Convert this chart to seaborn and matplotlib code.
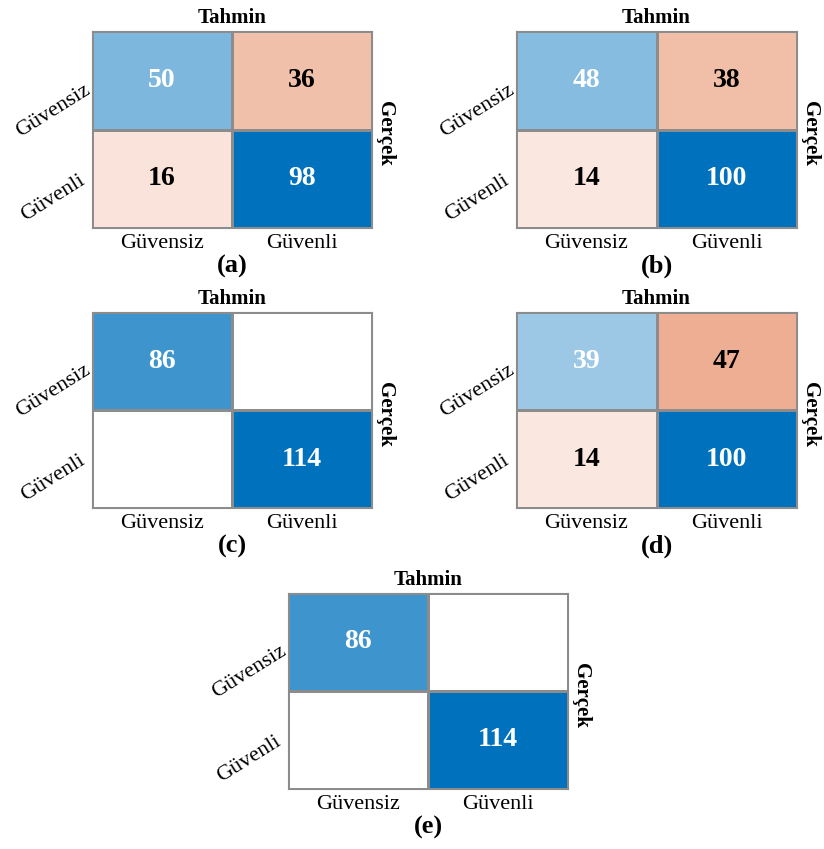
import numpy as np
import matplotlib
matplotlib.use("Agg")
import matplotlib.pyplot as plt
import seaborn as sns
from matplotlib.colors import LinearSegmentedColormap

sns.set_style("white")
plt.rcParams['font.family'] = ['Liberation Serif', 'DejaVu Serif']
plt.rcParams['text.color'] = 'black'
plt.rcParams['xtick.color'] = 'black'
plt.rcParams['ytick.color'] = 'black'

# ---- data ----
class_labels = ["Güvensiz", "Güvenli"]
panel_names = ["(a)", "(b)", "(c)", "(d)", "(e)"]
cm_a = [[50, 36], [16, 98]]
cm_b = [[48, 38], [14, 100]]
cm_c = [[86, 0], [0, 114]]
cm_d = [[39, 47], [14, 100]]
cm_e = [[86, 0], [0, 114]]
matrices = [cm_a, cm_b, cm_c, cm_d, cm_e]
x_title = "Tahmin"
y_title = "Gerçek"

# ---- styling ----
blue_cmap = LinearSegmentedColormap.from_list("bl", ["#FFFFFF", "#0072BD"])
orange_cmap = LinearSegmentedColormap.from_list("or", ["#FFFFFF", "#D95319"])
edge = "#8C8C8C"

W, H = 824, 849
fig = plt.figure(figsize=(W / 100, H / 100), dpi=100)

# axes boxes in pixels: (left, top, right, bottom)
boxes = [
    (92, 31, 372, 228),
    (516, 31, 797, 228),
    (92, 312, 372, 508),
    (516, 312, 797, 508),
    (288, 593, 568, 789),
]

for cm, name, (l, t, r, b) in zip(matrices, panel_names, boxes):
    ax = fig.add_axes([l / W, 1 - b / H, (r - l) / W, (b - t) / H])
    arr = np.array(cm)
    vmax = arr.max()
    diag_mask = ~np.eye(2, dtype=bool)
    off_mask = np.eye(2, dtype=bool)
    annot = np.where(arr > 0, arr.astype(str), "")
    sns.heatmap(arr, mask=diag_mask, cmap=blue_cmap, vmin=0, vmax=vmax,
                annot=annot, fmt="", cbar=False, linewidths=0.8, linecolor=edge,
                annot_kws=dict(color="white", fontsize=20, fontweight="bold"), ax=ax)
    sns.heatmap(arr, mask=off_mask, cmap=orange_cmap, vmin=0, vmax=vmax,
                annot=annot, fmt="", cbar=False, linewidths=0.8, linecolor=edge,
                annot_kws=dict(color="black", fontsize=20, fontweight="bold"), ax=ax)
    ax.set_xlim(0, 2)
    ax.set_ylim(2, 0)
    for sp in ax.spines.values():
        sp.set_visible(True)
        sp.set_color(edge)
        sp.set_linewidth(0.8)
    ax.set_xticks([0.5, 1.5])
    ax.set_yticks([0.5, 1.5])
    ax.set_xticklabels(class_labels, fontsize=16)
    ax.set_yticklabels(class_labels, fontsize=16, rotation=32, ha="right",
                       va="center", rotation_mode="anchor")
    yl = ax.get_yticklabels()
    yl[0].set_va("top")
    ax.tick_params(axis="x", length=0, pad=4)
    ax.tick_params(axis="y", length=0, pad=6)
    ax.set_xlabel("")
    ax.set_ylabel("")
    ax.set_title(x_title, fontsize=15, fontweight="bold", pad=6)
    ax.annotate(y_title, xy=(1, 0.5), xycoords="axes fraction", xytext=(2.5, -3),
                textcoords="offset points", rotation=-90, ha="left", va="center",
                fontsize=15, fontweight="bold")
    ax.annotate(name, xy=(0.5, 0), xycoords="axes fraction", xytext=(0, -27.5),
                textcoords="offset points", ha="center", va="center",
                fontsize=19, fontweight="bold")

fig.savefig("out.png", dpi=100, facecolor="white")
